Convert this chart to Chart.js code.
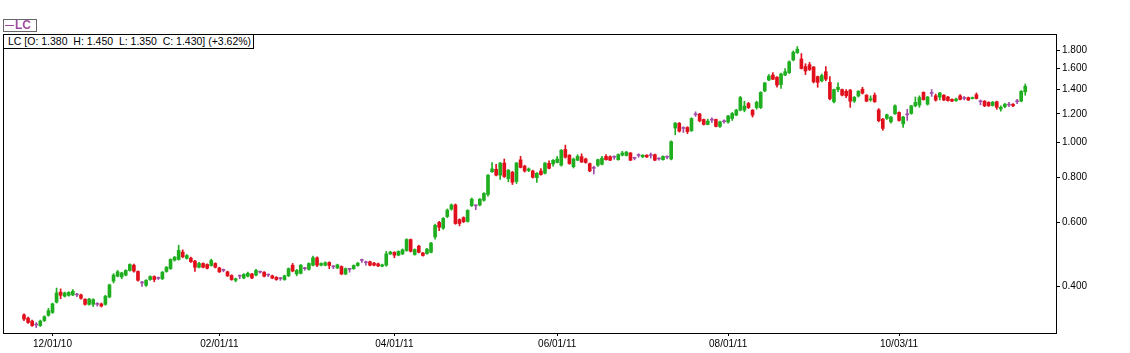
<!DOCTYPE html>
<html>
<head>
<meta charset="utf-8">
<title>LC</title>
<script src="https://cdn.jsdelivr.net/npm/chart.js@4/dist/chart.umd.min.js"></script>
<style>
  body { margin: 0; background: #fff; }
  .wrap { position: relative; width: 1130px; height: 353px; }
  .legend {
    position: absolute; left: 3px; top: 19px; width: 32px; height: 11px;
    border: 1px solid #666; background: #fff;
    font: bold 12px Arial, "Liberation Sans", sans-serif; line-height: 11px;
    color: #9c4c9c; white-space: nowrap;
  }
  .legend__line {
    display: inline-block; width: 9px; height: 1px; background: #9c4c9c;
    vertical-align: middle; margin: 0 1px 0 1px;
  }
  .info {
    position: absolute; left: 3px; top: 34px; width: 245px; height: 13px;
    padding-left: 4px; border: 1px solid #000; background: #fff;
    font: 10.5px Arial, "Liberation Sans", sans-serif; line-height: 13px;
    color: #000; white-space: pre;
  }
</style>
</head>
<body>
<div class="wrap">
  <canvas id="chart" width="1130" height="353"></canvas>
  <div class="legend"><span class="legend__line"></span>LC</div>
  <div class="info" id="info"></div>
</div>
<script>
// daily candles (one entry per trading day)
const opens = [
  .334, .327, .321, .313, .312, .322, .333, .339, .362, .386,
  .376, .378, .379, .379, .379, .369, .357, .357, .357, .358,
  .357, .374, .414, .427, .425, .430, .443, .458, .440, .409,
  .403, .418, .426, .421, .420, .440, .448, .473, .475, .498,
  .478, .479, .470, .452, .463, .460, .457, .463, .450, .443,
  .439, .429, .416, .427, .422, .427, .433, .430, .438, .438,
  .430,
  .428, .424, .420, .418, .428, .458, .433, .435, .448, .446,
  .458, .480, .458, .458, .466, .453, .450, .454, .433, .446,
  .448, .457, .472, .465, .468, .464, .462, .455, .458, .492,
  .497, .488, .492, .503, .539, .490, .517, .495, .493, .497,
  .548, .601, .580, .624, .654, .672, .612, .620, .605, .669,
  .668, .672, .692, .718, .830, .843, .812, .877, .794, .827,
  .780, .895, .860, .837,
  .834, .799, .834, .822, .875, .872, .880, .865, .956, .922,
  .857, .893, .913, .900, .874, .848, .865, .870, .915, .913,
  .910, .896, .922, .920, .935, .904, .920, .912, .922, .920,
  .925, .900, .896, .910, .900, 1.096, 1.130, 1.093, 1.100, 1.078,
  1.192, 1.198, 1.157, 1.121, 1.152, 1.157, 1.107, 1.141, 1.138, 1.164,
  1.190, 1.228, 1.228, 1.281, 1.228, 1.248, 1.248, 1.388, 1.487, 1.535,
  1.514, 1.445, 1.535,
  1.558, 1.689, 1.770, 1.700, 1.620, 1.640, 1.616, 1.520, 1.480, 1.568,
  1.465, 1.295, 1.400, 1.400, 1.385, 1.395, 1.300, 1.343, 1.403, 1.351,
  1.310, 1.350, 1.230, 1.160, 1.165, 1.140, 1.200, 1.210, 1.125, 1.192,
  1.202, 1.262, 1.268, 1.375, 1.275, 1.365, 1.345, 1.335, 1.350, 1.335,
  1.315, 1.305, 1.345, 1.322, 1.330, 1.322, 1.355, 1.295, 1.300, 1.290,
  1.265, 1.295, 1.237, 1.255, 1.268, 1.275, 1.295, 1.300, 1.380
];
const highs = [
  .336, .329, .323, .318, .323, .332, .348, .360, .396, .394,
  .386, .387, .392, .383, .381, .370, .371, .370, .361, .360,
  .378, .406, .434, .443, .438, .445, .462, .461, .442, .413,
  .418, .428, .428, .425, .440, .454, .477, .484, .520, .505,
  .490, .482, .472, .466, .465, .462, .476, .465, .452, .447,
  .441, .431, .422, .430, .434, .438, .435, .446, .441, .440,
  .433,
  .430, .426, .424, .430, .450, .463, .446, .460, .452, .465,
  .485, .483, .465, .468, .468, .457, .461, .456, .450, .448,
  .459, .466, .476, .470, .470, .466, .464, .461, .500, .500,
  .499, .502, .508, .542, .541, .508, .520, .497, .510, .530,
  .595, .605, .620, .655, .676, .676, .615, .623, .652, .702,
  .672, .700, .727, .815, .880, .870, .880, .900, .842, .832,
  .880, .915, .865, .850,
  .838, .825, .846, .880, .890, .896, .915, .955, .983, .925,
  .905, .925, .930, .905, .877, .860, .900, .915, .925, .918,
  .918, .930, .945, .945, .938, .910, .930, .925, .925, .935,
  .928, .906, .918, .918, 1.010, 1.135, 1.135, 1.105, 1.105, 1.170,
  1.215, 1.203, 1.160, 1.160, 1.170, 1.160, 1.145, 1.155, 1.188, 1.210,
  1.235, 1.340, 1.300, 1.290, 1.232, 1.300, 1.380, 1.465, 1.540, 1.560,
  1.520, 1.555, 1.600,
  1.680, 1.790, 1.840, 1.760, 1.650, 1.665, 1.620, 1.525, 1.545, 1.620,
  1.520, 1.405, 1.460, 1.405, 1.400, 1.400, 1.340, 1.390, 1.420, 1.355,
  1.345, 1.370, 1.240, 1.165, 1.198, 1.180, 1.270, 1.215, 1.180, 1.235,
  1.266, 1.335, 1.345, 1.380, 1.340, 1.400, 1.360, 1.375, 1.355, 1.340,
  1.320, 1.325, 1.355, 1.340, 1.335, 1.335, 1.370, 1.310, 1.305, 1.295,
  1.297, 1.300, 1.262, 1.282, 1.290, 1.280, 1.315, 1.390, 1.450
];
const lows = [
  .322, .316, .310, .308, .310, .320, .331, .337, .360, .370,
  .374, .376, .377, .375, .369, .355, .355, .352, .353, .351,
  .355, .372, .409, .425, .420, .428, .441, .438, .414, .400,
  .400, .416, .412, .418, .418, .438, .446, .470, .473, .480,
  .476, .466, .440, .450, .450, .447, .455, .450, .437, .439,
  .426, .416, .412, .420, .420, .425, .420, .428, .435, .425,
  .426,
  .420, .416, .416, .416, .426, .439, .428, .433, .444, .444,
  .456, .454, .456, .456, .448, .448, .448, .431, .431, .438,
  .446, .455, .466, .458, .456, .456, .454, .453, .455, .490,
  .480, .486, .490, .500, .498, .488, .495, .485, .491, .495,
  .540, .570, .575, .620, .650, .594, .588, .600, .602, .665,
  .652, .668, .688, .710, .826, .808, .790, .800, .778, .765,
  .770, .850, .828, .830,
  .797, .775, .812, .818, .845, .860, .878, .860, .905, .870,
  .850, .890, .880, .876, .830, .818, .858, .866, .893, .890,
  .898, .893, .918, .917, .890, .895, .910, .908, .908, .905,
  .890, .893, .893, .900, .895, 1.050, 1.068, 1.065, 1.058, 1.072,
  1.180, 1.140, 1.117, 1.118, 1.135, 1.103, 1.100, 1.130, 1.130, 1.150,
  1.185, 1.222, 1.215, 1.240, 1.175, 1.235, 1.240, 1.380, 1.480, 1.490,
  1.420, 1.410, 1.530,
  1.550, 1.680, 1.760, 1.595, 1.540, 1.580, 1.460, 1.420, 1.470, 1.480,
  1.310, 1.285, 1.380, 1.345, 1.330, 1.250, 1.290, 1.335, 1.360, 1.295,
  1.300, 1.290, 1.140, 1.080, 1.158, 1.130, 1.195, 1.145, 1.100, 1.150,
  1.196, 1.255, 1.250, 1.308, 1.268, 1.340, 1.300, 1.310, 1.305, 1.300,
  1.295, 1.298, 1.310, 1.310, 1.305, 1.318, 1.318, 1.270, 1.255, 1.257,
  1.260, 1.235, 1.220, 1.248, 1.255, 1.255, 1.280, 1.295, 1.350
];
const closes = [
  .325, .318, .312, .313, .321, .330, .343, .358, .384, .378,
  .384, .385, .388, .379, .371, .357, .369, .368, .357, .353,
  .376, .404, .430, .439, .436, .443, .460, .441, .416, .409,
  .416, .426, .418, .421, .438, .452, .475, .482, .503, .483,
  .487, .468, .452, .463, .452, .449, .472, .452, .439, .443,
  .428, .418, .420, .427, .432, .435, .422, .443, .438, .427,
  .430,
  .422, .418, .420, .428, .448, .441, .443, .458, .448, .463,
  .480, .458, .463, .465, .457, .453, .459, .433, .448, .446,
  .457, .464, .472, .465, .458, .458, .456, .459, .492, .498,
  .488, .500, .505, .539, .500, .506, .497, .487, .507, .527,
  .590, .583, .617, .650, .672, .597, .597, .604, .649, .697,
  .668, .697, .723, .812, .845, .812, .877, .805, .838, .776,
  .877, .853, .834, .845,
  .801, .822, .815, .877, .848, .893, .900, .952, .910, .874,
  .900, .915, .883, .880, .834, .848, .896, .905, .896, .893,
  .910, .925, .935, .940, .893, .904, .920, .922, .912, .920,
  .893, .900, .915, .910, 1.005, 1.130, 1.074, 1.093, 1.071, 1.164,
  1.192, 1.147, 1.121, 1.145, 1.152, 1.107, 1.140, 1.141, 1.183, 1.202,
  1.228, 1.330, 1.260, 1.248, 1.190, 1.290, 1.375, 1.460, 1.525, 1.495,
  1.440, 1.545, 1.568,
  1.670, 1.775, 1.810, 1.600, 1.575, 1.590, 1.470, 1.465, 1.530, 1.495,
  1.320, 1.400, 1.420, 1.351, 1.345, 1.300, 1.332, 1.385, 1.368, 1.300,
  1.320, 1.295, 1.148, 1.093, 1.192, 1.175, 1.262, 1.150, 1.175, 1.192,
  1.262, 1.290, 1.330, 1.313, 1.335, 1.365, 1.309, 1.370, 1.310, 1.305,
  1.300, 1.318, 1.315, 1.322, 1.310, 1.330, 1.322, 1.295, 1.262, 1.262,
  1.292, 1.250, 1.250, 1.275, 1.268, 1.262, 1.295, 1.385, 1.430
];

// date labels on the time axis and the candle each one sits under
const tickLabels = ['12/01/10', '02/01/11', '04/01/11', '06/01/11', '08/01/11', '10/03/11'];
const tickBars = [7, 48, 91, 131, 173, 215];
const priceTicks = [0.4, 0.6, 0.8, 1.0, 1.2, 1.4, 1.6, 1.8];

const UP = '#1fae1f';
const DOWN = '#e0101c';
const FLAT = '#a04ca8';

function _candleColor(i) {
  if (closes[i] > opens[i]) return UP;
  if (closes[i] < opens[i]) return DOWN;
  return FLAT;
}

// header text for the last candle
function _showInfo() {
  const n = closes.length - 1;
  const pct = (closes[n] - opens[n]) / opens[n] * 100;
  const sign = pct >= 0 ? '+' : '';
  document.getElementById('info').textContent =
    `LC [O: ${opens[n].toFixed(3)}  H: ${highs[n].toFixed(3)}  L: ${lows[n].toFixed(3)}  C: ${closes[n].toFixed(3)}] (${sign}${pct.toFixed(2)}%)`;
}

// box round the plot area
const framePlugin = {
  id: 'frame',
  afterDraw(chart) {
    const { ctx, chartArea: a } = chart;
    ctx.save();
    ctx.strokeStyle = '#000';
    ctx.lineWidth = 1;
    ctx.strokeRect(Math.round(a.left) + 0.5, Math.round(a.top) + 0.5,
      Math.round(a.right - a.left) - 1, Math.round(a.bottom - a.top));
    ctx.restore();
  }
};

function _drawChart() {
  const colors = closes.map((c, i) => _candleColor(i));
  const wicks = closes.map((c, i) => ({ x: i, y: [lows[i], highs[i]] }));
  const bodies = closes.map((c, i) => ({ x: i, y: [opens[i], closes[i]] }));

  Chart.defaults.font.family = 'Arial, "Liberation Sans", sans-serif';
  Chart.defaults.font.size = 10;
  Chart.defaults.color = '#000';

  new Chart(document.getElementById('chart'), {
    type: 'bar',
    data: {
      datasets: [{
        label: 'wick',
        data: wicks,
        backgroundColor: colors,
        barThickness: 1,
        grouped: false,
        borderWidth: 0
      }, {
        label: 'LC',
        data: bodies,
        backgroundColor: colors,
        barThickness: 3,
        minBarLength: 1,
        grouped: false,
        borderWidth: 0
      }]
    },
    options: {
      responsive: false,
      animation: false,
      events: [],
      devicePixelRatio: 1,
      layout: { padding: { left: 3, top: 34, right: 0, bottom: 0 } },
      plugins: { legend: { display: false }, tooltip: { enabled: false } },
      scales: {
        x: {
          type: 'linear',
          offset: false,
          min: -5.16,
          max: 253.8,
          afterFit: s => { s.height = 20; },
          afterBuildTicks: s => { s.ticks = tickBars.map(v => ({ value: v })); },
          ticks: {
            autoSkip: false,
            maxRotation: 0,
            padding: 2,
            callback: (v, i) => tickLabels[i]
          },
          grid: { offset: false, drawOnChartArea: false, drawTicks: true, tickLength: 3, color: '#000' },
          border: { display: false }
        },
        y: {
          type: 'logarithmic',
          position: 'right',
          min: 0.2975,
          max: 1.993,
          afterFit: s => { s.width = 73; },
          afterBuildTicks: s => { s.ticks = priceTicks.map(v => ({ value: v })); },
          ticks: {
            padding: 2,
            callback: v => Number(v).toFixed(3)
          },
          grid: { drawOnChartArea: false, drawTicks: true, tickLength: 3, color: '#000' },
          border: { display: false }
        }
      }
    },
    plugins: [framePlugin]
  });
}

_showInfo();
_drawChart();
</script>
</body>
</html>
